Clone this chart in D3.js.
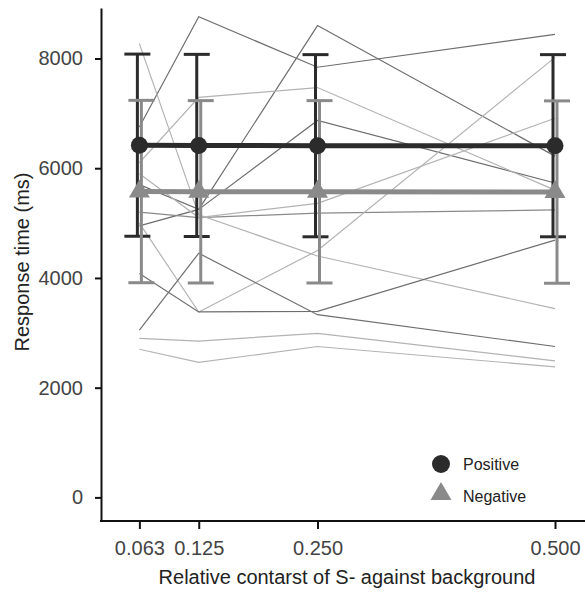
<!DOCTYPE html>
<html>
<head>
<meta charset="utf-8">
<script src="https://cdn.jsdelivr.net/npm/d3@7"></script>
<style>
  body { margin: 0; background: #fff; }
  #chart { width: 585px; height: 592px; }
</style>
</head>
<body>
<div id="chart"></div>
<script>
// contrast levels (x) and their printed labels
const contrast = [0.0625, 0.125, 0.25, 0.5];
const contrastLabels = ["0.063", "0.125", "0.250", "0.500"];
const rtTicks = [0, 2000, 4000, 6000, 8000];

// group means and error bars (ms)
const posMean = [6420, 6415, 6410, 6410];
const posErr = [1660, 1660, 1660, 1660];
const negMean = [5575, 5570, 5570, 5565];
const negErr = [1662, 1662, 1662, 1662];

// individual subjects, one row per subject
const subjectRT = [
  [6750, 8760, 7840, 8440],
  [4950, 5250, 8600, 6220],
  [5700, 5250, 6870, 5730],
  [6100, 7290, 7470, 5600],
  [5200, 5100, 5180, 5240],
  [8270, 5150, 4400, 3440],
  [5000, 3380, 4500, 8020],
  [4080, 3380, 3390, 4690],
  [3050, 4450, 3330, 2750],
  [2900, 2850, 2990, 2490],
  [2700, 2460, 2750, 2380],
  [5900, 5100, 5360, 6910]
];
const subjectGroup = ["pos", "pos", "pos", "neg", "mid", "neg",
                      "neg", "pos", "pos", "neg", "neg", "neg"];

const legendNames = ["Positive", "Negative"];

const width = 585;
const height = 592;
const font = "'Liberation Sans', Arial, sans-serif";

const svg = d3.select("#chart").append("svg")
  .attr("width", width)
  .attr("height", height)
  .style("display", "block");

const x = d3.scaleLinear().domain([0, 0.5]).range([80, 555]);
const y = d3.scaleLinear().domain([-430, 8920]).range([521, 8]);

const shade = d3.scaleOrdinal()
  .domain(["pos", "mid", "neg"])
  .range(["#6e6e6e", "#8a8a8a", "#b3b3b3"]);

// thin subject lines
const line = d3.line()
  .x((d, i) => x(contrast[i]))
  .y(d => y(d));

svg.append("g")
  .attr("fill", "none")
  .attr("stroke-width", 1.2)
  .selectAll("path")
  .data(subjectRT)
  .join("path")
  .attr("stroke", (d, i) => shade(subjectGroup[i]))
  .attr("d", line);

// error bars
function errorBars(means, errs, color, dx) {
  const g = svg.append("g")
    .attr("stroke", color)
    .attr("stroke-width", 3);
  const rows = means.map((m, i) => ({ x: contrast[i], lo: m - errs[i], hi: m + errs[i] }));
  g.selectAll("line.v").data(rows).join("line")
    .attr("class", "v")
    .attr("x1", d => x(d.x) + dx).attr("x2", d => x(d.x) + dx)
    .attr("y1", d => y(d.lo)).attr("y2", d => y(d.hi));
  g.selectAll("line.hi").data(rows).join("line")
    .attr("class", "hi")
    .attr("x1", d => x(d.x) + dx - 13).attr("x2", d => x(d.x) + dx + 13)
    .attr("y1", d => y(d.hi)).attr("y2", d => y(d.hi));
  g.selectAll("line.lo").data(rows).join("line")
    .attr("class", "lo")
    .attr("x1", d => x(d.x) + dx - 13).attr("x2", d => x(d.x) + dx + 13)
    .attr("y1", d => y(d.lo)).attr("y2", d => y(d.lo));
}

errorBars(posMean, posErr, "#2b2b2b", -2);
errorBars(negMean, negErr, "#8a8a8a", 2);

// mean lines
svg.append("path")
  .datum(negMean)
  .attr("fill", "none")
  .attr("stroke", "#8a8a8a")
  .attr("stroke-width", 5)
  .attr("d", line);

svg.append("path")
  .datum(posMean)
  .attr("fill", "none")
  .attr("stroke", "#2b2b2b")
  .attr("stroke-width", 5)
  .attr("d", line);

// points
const tri = d3.symbol(d3.symbolTriangle, 190);
svg.selectAll("path.neg")
  .data(negMean)
  .join("path")
  .attr("class", "neg")
  .attr("fill", "#8a8a8a")
  .attr("transform", (d, i) => `translate(${x(contrast[i])},${y(d)})`)
  .attr("d", tri);

svg.selectAll("circle.pos")
  .data(posMean)
  .join("circle")
  .attr("class", "pos")
  .attr("fill", "#2b2b2b")
  .attr("cx", (d, i) => x(contrast[i]))
  .attr("cy", d => y(d))
  .attr("r", 8.5);

// axes
const yAxis = svg.append("g")
  .attr("transform", "translate(101,0)")
  .call(d3.axisLeft(y).tickValues(rtTicks).tickSize(6).tickSizeOuter(0).tickPadding(12)
    .tickFormat(d3.format("d")));

const xAxis = svg.append("g")
  .attr("transform", "translate(0,521)")
  .call(d3.axisBottom(x).tickValues(contrast).tickSize(8).tickPadding(12)
    .tickFormat((d, i) => contrastLabels[i]));

xAxis.select(".domain").remove();
xAxis.append("line")
  .attr("x1", 100).attr("x2", width)
  .attr("stroke", "#111")
  .attr("stroke-width", 2);

[yAxis, xAxis].forEach(ax => {
  ax.selectAll(".domain, .tick line")
    .attr("stroke", "#111")
    .attr("stroke-width", 2);
  ax.selectAll(".tick text")
    .attr("fill", "#444")
    .style("font-family", font)
    .style("font-size", "20px");
});

// axis titles
svg.append("text")
  .attr("x", 347)
  .attr("y", 584)
  .attr("text-anchor", "middle")
  .attr("fill", "#222")
  .style("font-family", font)
  .style("font-size", "20px")
  .text("Relative contarst of S- against background");

svg.append("text")
  .attr("transform", "translate(29,262) rotate(-90)")
  .attr("text-anchor", "middle")
  .attr("fill", "#222")
  .style("font-family", font)
  .style("font-size", "20px")
  .text("Response time (ms)");

// legend
const legend = svg.append("g").attr("transform", "translate(441,464)");

legend.append("path")
  .attr("transform", "translate(0,30)")
  .attr("fill", "#8a8a8a")
  .attr("d", tri);

legend.append("circle")
  .attr("r", 9)
  .attr("fill", "#2b2b2b");

legend.selectAll("text")
  .data(legendNames)
  .join("text")
  .attr("x", 22)
  .attr("y", (d, i) => 6 + i * 32)
  .attr("fill", "#222")
  .style("font-family", font)
  .style("font-size", "16px")
  .text(d => d);
</script>
</body>
</html>
